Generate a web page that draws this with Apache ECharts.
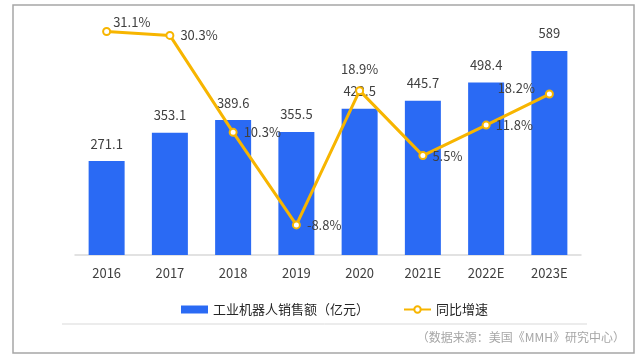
<!DOCTYPE html>
<html><head><meta charset="utf-8">
<script src="https://cdn.jsdelivr.net/npm/echarts@6/dist/echarts.min.js"></script>
<style>html,body{margin:0;padding:0;background:#fff}#c{width:644px;height:364px}</style>
</head><body><div id="c"></div>
<script>
const categories = ['2016','2017','2018','2019','2020','2021E','2022E','2023E'];
const salesValues = [271.1, 353.1, 389.6, 355.5, 422.5, 445.7, 498.4, 589];
const growthValues = [31.1, 30.3, 10.3, -8.8, 18.9, 5.5, 11.8, 18.2];
const barName = '工业机器人销售额（亿元）';
const lineName = '同比增速';
const sourceText = '（数据来源：美国《MMH》研究中心）';

const FONT = '"Noto Sans CJK SC", "Microsoft YaHei", sans-serif';
const labelPlacement = [
  {position:'right', offset:[0,-9], distance:2},
  {position:'right', distance:6},
  {position:'right', distance:6},
  {position:'right', distance:6},
  {position:'top', distance:11},
  {position:'right', distance:5},
  {position:'right', distance:5},
  {position:'left', offset:[0,-6], distance:10}
];
const lineData = growthValues.map((v,i)=>({value:v, label:labelPlacement[i]}));

const chart = echarts.init(document.getElementById('c'));
chart.setOption({
  animation:false,
  textStyle:{fontFamily:FONT},
  grid:{left:75, right:63, top:12.6, bottom:109},
  legend:{
    left:176, top:298, itemGap:34, itemWidth:27, itemHeight:8,
    textStyle:{fontSize:13, color:'#262626', fontFamily:FONT},
    data:[{name:barName, icon:'rect'}, {name:lineName}]
  },
  xAxis:{
    type:'category', data:categories,
    axisLine:{lineStyle:{color:'#D9D9D9', width:1.5}},
    axisTick:{show:false},
    axisLabel:{color:'#404040', fontSize:13, margin:12, fontFamily:FONT}
  },
  yAxis:[
    {type:'value', min:0, max:700, show:false, splitLine:{show:false}},
    {type:'value', min:-15, max:35, show:false, splitLine:{show:false}}
  ],
  series:[
    {
      name:barName, type:'bar', data:salesValues, barWidth:36,
      itemStyle:{color:'#2A6AF4'},
      label:{show:true, position:'top', distance:11, color:'#404040', fontSize:13, fontFamily:FONT}
    },
    {
      name:lineName, type:'line', yAxisIndex:1, data:lineData,
      lineStyle:{color:'#F7B500', width:3},
      itemStyle:{color:'#F7B500', borderColor:'#F7B500', borderWidth:1.5},
      symbol:'emptyCircle', symbolSize:7,
      label:{show:true, formatter:p=>p.value+'%', color:'#404040', fontSize:13, fontFamily:FONT}
    }
  ],
  graphic:[
    {type:'rect', shape:{x:13, y:5, width:621, height:348}, style:{fill:null, stroke:'#A6A6A6', lineWidth:1.5}, silent:true},
    {type:'line', shape:{x1:62, y1:324, x2:587, y2:324}, style:{stroke:'#D9D9D9', lineWidth:1}},
    {type:'text', right:644-625, top:331, style:{text:sourceText, fill:'#A6A6A6', fontSize:12, fontFamily:FONT}}
  ]
});
</script></body></html>
